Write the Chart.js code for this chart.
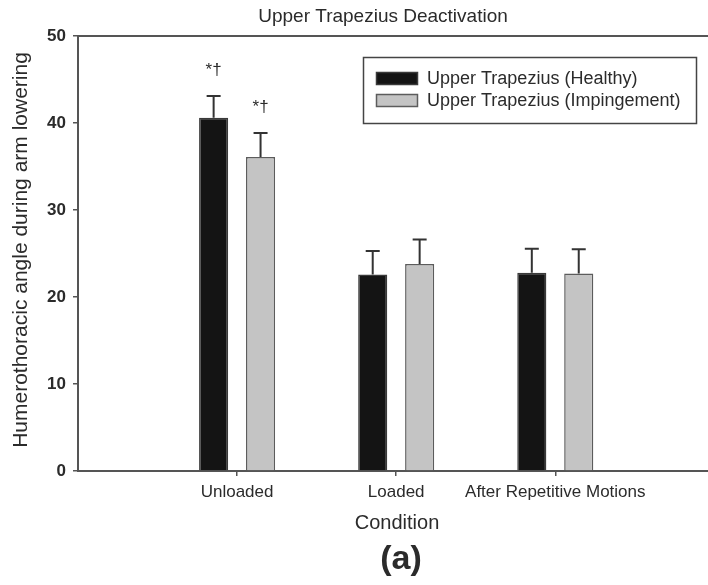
<!DOCTYPE html>
<html>
<head>
<meta charset="utf-8">
<script src="https://cdn.jsdelivr.net/npm/chart.js@4.4.1/dist/chart.umd.min.js"></script>
<style>
  html, body { margin: 0; padding: 0; background: #fff; }
  #wrap { width: 708px; height: 585px; }
</style>
</head>
<body>
<div id="wrap"><canvas id="myChart" width="708" height="585"></canvas></div>
<script>
  // conditions along the x axis
  const conditions = ["Unloaded", "Loaded", "After Repetitive Motions"];

  // group means (deg) and standard errors
  const healthyMean = [40.6, 22.6, 22.8];
  const healthyErr = [2.5, 2.7, 2.75];
  const impingeMean = [36.1, 23.8, 22.7];
  const impingeErr = [2.75, 2.8, 2.8];

  // significance marks drawn above the error bars
  const healthyMarks = ["*\u2020", "", ""];
  const impingeMarks = ["*\u2020", "", ""];

  const yTicks = [0, 10, 20, 30, 40, 50];

  const FONT = "'Liberation Sans', Arial, sans-serif";
  const TEXT = "#2b2b2b";
  const AXIS = "#555";

  const errors = [healthyErr, impingeErr];
  const marks = [healthyMarks, impingeMarks];

  // error bars, marks, legend box and the free text around the plot
  const figureText = {
    id: "figureText",
    afterDatasetsDraw(chart) {
      const ctx = chart.ctx;
      const y = chart.scales.y;
      const area = chart.chartArea;

      ctx.save();
      // frame line along the top of the plot
      ctx.strokeStyle = AXIS;
      ctx.lineWidth = 2;
      ctx.beginPath();
      ctx.moveTo(area.left, area.top);
      ctx.lineTo(area.right, area.top);
      ctx.stroke();

      chart.data.datasets.forEach((ds, d) => {
        const meta = chart.getDatasetMeta(d);
        meta.data.forEach((bar, i) => {
          const top = y.getPixelForValue(ds.data[i].y + errors[d][i]);
          ctx.strokeStyle = "#333";
          ctx.lineWidth = 2;
          ctx.beginPath();
          ctx.moveTo(bar.x, bar.y);
          ctx.lineTo(bar.x, top);
          ctx.moveTo(bar.x - 7, top);
          ctx.lineTo(bar.x + 7, top);
          ctx.stroke();

          if (marks[d][i]) {
            ctx.fillStyle = TEXT;
            ctx.font = "17px " + FONT;
            ctx.textAlign = "center";
            ctx.textBaseline = "middle";
            ctx.fillText(marks[d][i], bar.x, top - 26);
          }
        });
      });

      // legend
      ctx.strokeStyle = "#444";
      ctx.lineWidth = 1.5;
      ctx.strokeRect(363.5, 57.5, 333, 66);
      chart.data.datasets.forEach((ds, d) => {
        const sy = 72 + d * 22;
        ctx.fillStyle = ds.backgroundColor;
        ctx.fillRect(376, sy, 42, 13);
        ctx.strokeStyle = ds.borderColor;
        ctx.lineWidth = 1.5;
        ctx.strokeRect(376.5, sy + 0.5, 41, 12);
        ctx.fillStyle = TEXT;
        ctx.font = "18px " + FONT;
        ctx.textAlign = "left";
        ctx.textBaseline = "middle";
        ctx.fillText(ds.label, 427, sy + 7);
      });

      // titles
      ctx.fillStyle = TEXT;
      ctx.textAlign = "center";
      ctx.textBaseline = "middle";
      ctx.font = "19px " + FONT;
      ctx.fillText("Upper Trapezius Deactivation", 383, 17);
      ctx.font = "20px " + FONT;
      ctx.fillText("Condition", 397, 523);
      ctx.font = "bold 34px " + FONT;
      ctx.fillText("(a)", 401, 560);

      ctx.translate(21, 250);
      ctx.rotate(-Math.PI / 2);
      ctx.font = "21px " + FONT;
      ctx.fillText("Humerothoracic angle during arm lowering", 0, 0);
      ctx.restore();
    }
  };

  const barStyle = { borderWidth: 1.5, categoryPercentage: 0.59, barPercentage: 0.62 };

  const ctx = document.getElementById("myChart").getContext("2d");
  const chart = new Chart(ctx, {
    type: "bar",
    data: {
      datasets: [
        Object.assign({
          label: "Upper Trapezius (Healthy)",
          data: healthyMean.map((v, i) => ({ x: i + 1, y: v })),
          backgroundColor: "#141414",
          borderColor: "#3a3a3a"
        }, barStyle),
        Object.assign({
          label: "Upper Trapezius (Impingement)",
          data: impingeMean.map((v, i) => ({ x: i + 1, y: v })),
          backgroundColor: "#c4c4c4",
          borderColor: "#5c5c5c"
        }, barStyle)
      ]
    },
    options: {
      responsive: false,
      devicePixelRatio: 1,
      animation: false,
      layout: { padding: { top: 36, left: 0, right: 0, bottom: 0 } },
      plugins: {
        legend: { display: false },
        tooltip: { enabled: false }
      },
      scales: {
        x: {
          type: "linear",
          offset: false,
          min: 0,
          max: 3.96,
          afterBuildTicks: (scale) => {
            scale.ticks = conditions.map((c, i) => ({ value: i + 1 }));
          },
          afterFit: (scale) => { scale.height = 114; },
          ticks: {
            callback: (v) => conditions[v - 1],
            font: { family: FONT, size: 17 },
            color: TEXT,
            padding: 6,
            maxRotation: 0,
            autoSkip: false
          },
          grid: { offset: false, drawOnChartArea: false, drawTicks: true, tickLength: 5, color: AXIS, lineWidth: 1.5 },
          border: { color: AXIS, width: 2 }
        },
        y: {
          min: 0,
          max: 50,
          afterBuildTicks: (scale) => {
            scale.ticks = yTicks.map((v) => ({ value: v }));
          },
          afterFit: (scale) => { scale.width = 78; },
          ticks: {
            font: { family: FONT, size: 17, weight: "bold" },
            color: TEXT,
            padding: 7
          },
          grid: { drawOnChartArea: false, drawTicks: true, tickLength: 5, color: AXIS, lineWidth: 1.5 },
          border: { color: AXIS, width: 2 }
        }
      }
    },
    plugins: [figureText]
  });
</script>
</body>
</html>
